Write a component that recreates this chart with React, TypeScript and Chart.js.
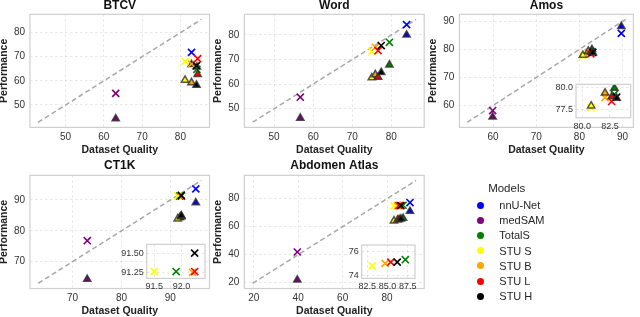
import { useEffect, useRef } from 'react';
import { Chart, registerables } from 'chart.js';

Chart.register(...registerables);

const FONT = '"Liberation Sans", Arial, Helvetica, sans-serif';
const W = 640;
const H = 317;

const MODELS = ['nnU-Net', 'medSAM', 'TotalS', 'STU S', 'STU B', 'STU L', 'STU H'];
const MODEL_COLORS = ['#0000ff', '#800080', '#008000', '#ffff00', '#ffa500', '#ff0000', '#000000'];

// BTCV
const BTCV_QUALITY = [82.9, 63.1, 84.3, 81.2, 82.9, 84.5, 84.2];
const BTCV_PERF_X = [71.8, 54.8, 64.8, 68.1, 67.0, 69.2, 66.3];
const BTCV_PERF_TRI = [66.8, 44.3, 65.8, 60.3, 59.3, 62.7, 58.2];
const BTCV_TICKS = [50, 60, 70, 80];
const BTCV_LIMITS = [40.7, 87.6];
const BTCV_DIAG = [42.8, 85.5];

// Word
const WORD_QUALITY = [83.9, 56.7, 79.5, 75.0, 75.9, 76.6, 77.4];
const WORD_PERF_X = [84.2, 54.7, 77.0, 73.4, 75.0, 73.6, 75.7];
const WORD_PERF_TRI = [80.0, 46.2, 67.8, 62.6, 63.9, 62.8, 64.8];
const WORD_TICKS = [50, 60, 70, 80];
const WORD_LIMITS = [42.4, 88.4];
const WORD_DIAG = [44.5, 86.3];

// Amos
const AMOS_QUALITY = [89.7, 59.9, 82.9, 80.8, 82.05, 82.65, 83.1];
const AMOS_PERF_X = [85.7, 58.2, 79.25, 77.7, 78.85, 78.4, 78.9];
const AMOS_PERF_TRI = [88.2, 55.9, 79.95, 77.9, 79.4, 78.95, 78.8];
const AMOS_TICKS = [60, 70, 80, 90];
const AMOS_LIMITS = [52.2, 92.5];
const AMOS_DIAG = [54.0, 90.7];
const AMOS_INSET_X_TICKS = [80.0, 82.5];
const AMOS_INSET_Y_TICKS = [77.5, 80.0];
const AMOS_INSET_X_LIMITS = [79.43, 84.37];
const AMOS_INSET_Y_LIMITS = [76.53, 80.39];

// CT1K
const CT1K_QUALITY = [95.2, 73.0, 91.9, 91.5, 92.2, 92.24, 92.24];
const CT1K_PERF_X = [93.6, 76.8, 91.26, 91.26, 91.25, 91.26, 91.51];
const CT1K_PERF_TRI = [89.1, 64.3, 84.3, 83.9, 84.6, 84.7, 84.9];
const CT1K_TICKS = [70, 80, 90];
const CT1K_LIMITS = [61.3, 98.0];
const CT1K_DIAG = [63.0, 96.3];
const CT1K_INSET_X_TICKS = [91.5, 92.0];
const CT1K_INSET_Y_TICKS = [91.25, 91.5];
const CT1K_INSET_X_LIMITS = [91.36, 92.43];
const CT1K_INSET_Y_LIMITS = [91.167, 91.63];

// Abdomen Atlas
const ABD_QUALITY = [90.3, 39.6, 87.2, 83.1, 84.7, 85.4, 86.2];
const ABD_PERF_X = [77.2, 41.9, 75.3, 74.8, 75.0, 75.1, 75.1];
const ABD_PERF_TRI = [71.0, 21.9, 66.0, 64.2, 64.8, 65.2, 65.5];
const ABD_TICKS = [20, 40, 60, 80];
const ABD_LIMITS = [15.8, 96.7];
const ABD_DIAG = [19.5, 93.0];
const ABD_INSET_X_TICKS = [82.5, 85.0, 87.5];
const ABD_INSET_Y_TICKS = [74, 76];
const ABD_INSET_X_LIMITS = [81.8, 88.4];
const ABD_INSET_Y_LIMITS = [73.78, 76.49];

const PANELS: any[] = [
  { title: 'BTCV', q: BTCV_QUALITY, px: BTCV_PERF_X, pt: BTCV_PERF_TRI, lim: BTCV_LIMITS, diag: BTCV_DIAG, ticks: BTCV_TICKS, area: { l: 30, t: 14.3, r: 209.5, b: 127.4 }, titleY: 6 },
  { title: 'Word', q: WORD_QUALITY, px: WORD_PERF_X, pt: WORD_PERF_TRI, lim: WORD_LIMITS, diag: WORD_DIAG, ticks: WORD_TICKS, area: { l: 244.4, t: 14.3, r: 424.2, b: 127.4 }, titleY: 6 },
  { title: 'Amos', q: AMOS_QUALITY, px: AMOS_PERF_X, pt: AMOS_PERF_TRI, lim: AMOS_LIMITS, diag: AMOS_DIAG, ticks: AMOS_TICKS, area: { l: 459.4, t: 14.3, r: 638, b: 127.4 }, titleY: 6 },
  { title: 'CT1K', q: CT1K_QUALITY, px: CT1K_PERF_X, pt: CT1K_PERF_TRI, lim: CT1K_LIMITS, diag: CT1K_DIAG, ticks: CT1K_TICKS, area: { l: 30, t: 175.3, r: 209.5, b: 288.5 }, titleY: 166 },
  { title: 'Abdomen Atlas', q: ABD_QUALITY, px: ABD_PERF_X, pt: ABD_PERF_TRI, lim: ABD_LIMITS, diag: ABD_DIAG, ticks: ABD_TICKS, area: { l: 244.4, t: 175.3, r: 424.2, b: 288.5 }, titleY: 166 },
];

const INSETS: any[] = [
  { panel: 2, area: { l: 576, t: 84.3, r: 630.7, b: 117.7 }, xlim: AMOS_INSET_X_LIMITS, ylim: AMOS_INSET_Y_LIMITS, xticks: AMOS_INSET_X_TICKS, yticks: AMOS_INSET_Y_TICKS, xdec: 1, ydec: 1 },
  { panel: 3, area: { l: 146.7, t: 244.3, r: 205, b: 278.4 }, xlim: CT1K_INSET_X_LIMITS, ylim: CT1K_INSET_Y_LIMITS, xticks: CT1K_INSET_X_TICKS, yticks: CT1K_INSET_Y_TICKS, xdec: 1, ydec: 2 },
  { panel: 4, area: { l: 361.7, t: 245, r: 415, b: 278.4 }, xlim: ABD_INSET_X_LIMITS, ylim: ABD_INSET_Y_LIMITS, xticks: ABD_INSET_X_TICKS, yticks: ABD_INSET_Y_TICKS, xdec: 1, ydec: 0 },
];

const framePlugin: any = {
  id: 'frame',
  beforeDraw(chart: any, _a: any, opts: any) {
    if (!opts.fill) return;
    const { ctx, chartArea: a } = chart;
    ctx.save();
    ctx.fillStyle = '#ffffff';
    ctx.fillRect(a.left, a.top, a.right - a.left, a.bottom - a.top);
    ctx.restore();
  },
  afterDraw(chart: any, _a: any, opts: any) {
    const { ctx, chartArea: a } = chart;
    ctx.save();
    ctx.strokeStyle = opts.color;
    ctx.lineWidth = opts.width;
    ctx.strokeRect(a.left, a.top, a.right - a.left, a.bottom - a.top);
    ctx.restore();
  },
};

function pointSets(q: number[], px: number[], pt: number[]) {
  const sets: any[] = [];
  MODELS.forEach((m, i) => {
    sets.push({
      label: m + ' x',
      data: [{ x: q[i], y: px[i] }],
      pointStyle: 'crossRot',
      pointRadius: 5,
      pointBorderColor: MODEL_COLORS[i],
      pointBackgroundColor: MODEL_COLORS[i],
      pointBorderWidth: 1.6,
      order: 50 - 2 * i,
    });
    sets.push({
      label: m + ' tri',
      data: [{ x: q[i], y: pt[i] }],
      pointStyle: 'triangle',
      pointRadius: 4.2,
      pointBackgroundColor: MODEL_COLORS[i],
      pointBorderColor: 'rgba(45,45,45,0.8)',
      pointBorderWidth: 1.5,
      order: 49 - 2 * i,
    });
  });
  return sets;
}

function axisOpts(lim: number[], ticks: number[], dec: number, size: number, pad: number, fixed: number, isX: boolean, title: string | null) {
  return {
    type: 'linear',
    min: lim[0],
    max: lim[1],
    afterBuildTicks: (s: any) => {
      s.ticks = ticks.map((v) => ({ value: v }));
    },
    afterFit: (s: any) => {
      if (isX) s.height = fixed;
      else s.width = fixed;
    },
    ticks: {
      autoSkip: false,
      maxRotation: 0,
      padding: pad,
      color: '#333333',
      font: { family: FONT, size },
      callback: (v: any) => Number(v).toFixed(dec),
    },
    grid: { color: 'rgba(0,0,0,0.12)', lineWidth: 0.8, drawTicks: false },
    border: { display: false, dash: [2.5, 2.5] },
    title: title
      ? { display: true, text: title, color: '#222222', font: { family: FONT, size: 10.5, weight: 'bold', lineHeight: 0.8 }, padding: 0 }
      : { display: false },
  };
}

function mainConfig(p: any): any {
  const WY = 30;
  const HX = 27;
  const titleTop = p.titleY - 6;
  return {
    type: 'scatter',
    data: {
      datasets: [
        {
          label: 'diag',
          data: [
            { x: p.diag[0], y: p.diag[0] },
            { x: p.diag[1], y: p.diag[1] },
          ],
          showLine: true,
          borderColor: '#a8a8a8',
          borderWidth: 1.5,
          borderDash: [5, 3],
          pointRadius: 0,
          order: 100,
        },
        ...pointSets(p.q, p.px, p.pt),
      ],
    },
    options: {
      responsive: false,
      maintainAspectRatio: false,
      animation: false,
      devicePixelRatio: 1,
      events: [],
      layout: { padding: { left: p.area.l - WY, right: W - p.area.r, top: titleTop, bottom: H - p.area.b - HX } },
      scales: {
        x: axisOpts(p.lim, p.ticks, 0, 10, 4, HX, true, 'Dataset Quality'),
        y: axisOpts(p.lim, p.ticks, 0, 10, 5, WY, false, 'Performance'),
      },
      plugins: {
        legend: { display: false },
        tooltip: { enabled: false },
        title: {
          display: true,
          text: p.title,
          fullSize: false,
          color: '#111111',
          font: { family: FONT, size: 12, weight: 'bold', lineHeight: 1 },
          padding: { top: 0, bottom: p.area.t - titleTop - 12 },
        },
        frame: { fill: false, color: '#cfcfcf', width: 1.2 },
      },
    },
    plugins: [framePlugin],
  };
}

function insetConfig(s: any): any {
  const p = PANELS[s.panel];
  const WY = 30;
  const HX = 14;
  return {
    type: 'scatter',
    data: { datasets: pointSets(p.q, p.px, p.pt).map((d) => ({ ...d, clip: 0 })) },
    options: {
      responsive: false,
      maintainAspectRatio: false,
      animation: false,
      devicePixelRatio: 1,
      events: [],
      layout: { padding: { left: s.area.l - WY, right: W - s.area.r, top: s.area.t, bottom: H - s.area.b - HX } },
      scales: {
        x: axisOpts(s.xlim, s.xticks, s.xdec, 9, 3, HX, true, null),
        y: axisOpts(s.ylim, s.yticks, s.ydec, 9, 3, WY, false, null),
      },
      plugins: {
        legend: { display: false },
        tooltip: { enabled: false },
        title: { display: false },
        frame: { fill: true, color: '#cfcfcf', width: 1.2 },
      },
    },
    plugins: [framePlugin],
  };
}

const LEGEND_ROW_Y = [205, 220.2, 235.4, 250.6, 265.8, 281, 296.2];

export default function App() {
  const refs = useRef<(HTMLCanvasElement | null)[]>([]);

  useEffect(() => {
    const charts: Chart[] = [];
    PANELS.forEach((p, i) => {
      const c = refs.current[i];
      if (c) charts.push(new Chart(c, mainConfig(p)));
    });
    INSETS.forEach((s, j) => {
      const c = refs.current[PANELS.length + j];
      if (c) charts.push(new Chart(c, insetConfig(s)));
    });
    return () => charts.forEach((c) => c.destroy());
  }, []);

  const total = PANELS.length + INSETS.length;

  return (
    <div style={{ position: 'absolute', left: 0, top: 0, width: W, height: H, background: '#fff', overflow: 'hidden', fontFamily: FONT }}>
      {Array.from({ length: total }).map((_, i) => (
        <canvas
          key={i}
          ref={(el) => {
            refs.current[i] = el;
          }}
          width={W}
          height={H}
          style={{ position: 'absolute', left: 0, top: 0, width: W, height: H }}
        />
      ))}
      <div style={{ position: 'absolute', left: 506.7, top: 189.3, transform: 'translate(-50%, -50%)', fontSize: 11.5, color: '#262626', whiteSpace: 'nowrap', lineHeight: 1 }}>
        Models
      </div>
      {MODELS.map((m, i) => (
        <div key={m}>
          <div
            style={{
              position: 'absolute',
              left: 480 - 3.5,
              top: LEGEND_ROW_Y[i] - 3.5,
              width: 7,
              height: 7,
              borderRadius: '50%',
              background: MODEL_COLORS[i],
            }}
          />
          <div style={{ position: 'absolute', left: 499.3, top: LEGEND_ROW_Y[i], transform: 'translateY(-50%)', fontSize: 11, color: '#262626', whiteSpace: 'nowrap', lineHeight: 1 }}>
            {m}
          </div>
        </div>
      ))}
    </div>
  );
}
